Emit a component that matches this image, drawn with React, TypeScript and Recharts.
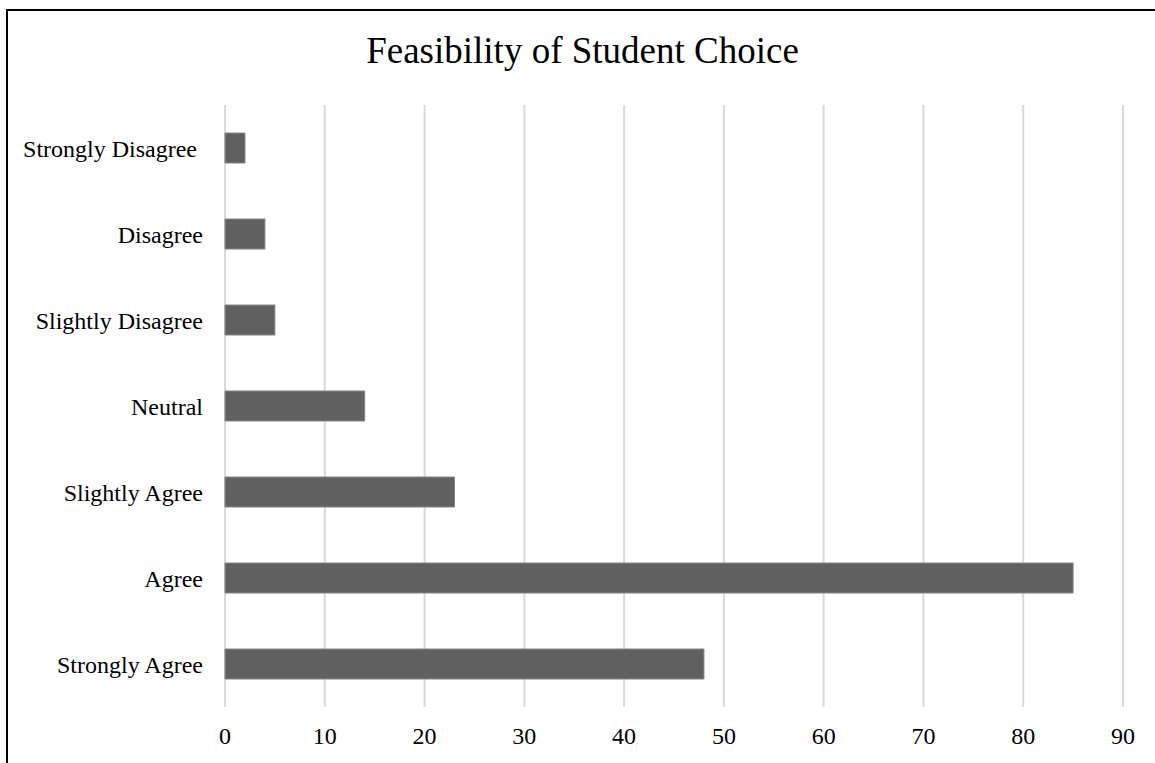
import { BarChart, Bar, XAxis, YAxis, CartesianGrid } from 'recharts';

// Survey responses, top to bottom as drawn
const categories = [
  'Strongly Disagree\u00A0',
  'Disagree',
  'Slightly Disagree',
  'Neutral',
  'Slightly Agree',
  'Agree',
  'Strongly Agree',
];
const counts = [2, 4, 5, 14, 23, 85, 48];
const xTicks = [0, 10, 20, 30, 40, 50, 60, 70, 80, 90];

const data = categories.map((name, i) => ({ name, count: counts[i] }));

const FONT = '"Liberation Serif", "Times New Roman", serif';

export default function App() {
  return (
    <div
      style={{
        position: 'absolute',
        left: 0,
        top: 0,
        width: 1155,
        height: 763,
        overflow: 'hidden',
        background: '#fff',
        fontFamily: FONT,
      }}
    >
      {/* frame of the original figure, cut off at right and bottom */}
      <div
        style={{
          position: 'absolute',
          left: 6,
          top: 9,
          width: 1300,
          height: 900,
          border: '2px solid #000',
        }}
      />

      {/* title */}
      <div
        style={{
          position: 'absolute',
          left: 0,
          top: 32,
          width: 1165,
          textAlign: 'center',
          fontSize: 37,
          lineHeight: '37px',
          color: '#000',
        }}
      >
        Feasibility of Student Choice
      </div>

      <div style={{ position: 'absolute', left: 0, top: 0 }}>
        <BarChart
          width={1155}
          height={763}
          data={data}
          layout="vertical"
          margin={{ top: 105, right: 32, left: 0, bottom: 0 }}
        >
          <CartesianGrid horizontal={false} stroke="#d9d9d9" strokeWidth={2} />
          <XAxis
            type="number"
            domain={[0, 90]}
            ticks={xTicks}
            interval={0}
            height={56}
            axisLine={false}
            tickLine={false}
            tickMargin={14}
            tick={{ fill: '#000', fontSize: 24, fontFamily: FONT }}
          />
          <YAxis
            type="category"
            dataKey="name"
            width={225}
            axisLine={false}
            tickLine={false}
            tickMargin={16}
            interval={0}
            tick={{ fill: '#000', fontSize: 24, fontFamily: FONT }}
          />
          <Bar
            dataKey="count"
            fill="#606060"
            stroke="#858585"
            strokeWidth={1}
            barSize={30}
            isAnimationActive={false}
          />
        </BarChart>
      </div>
    </div>
  );
}
